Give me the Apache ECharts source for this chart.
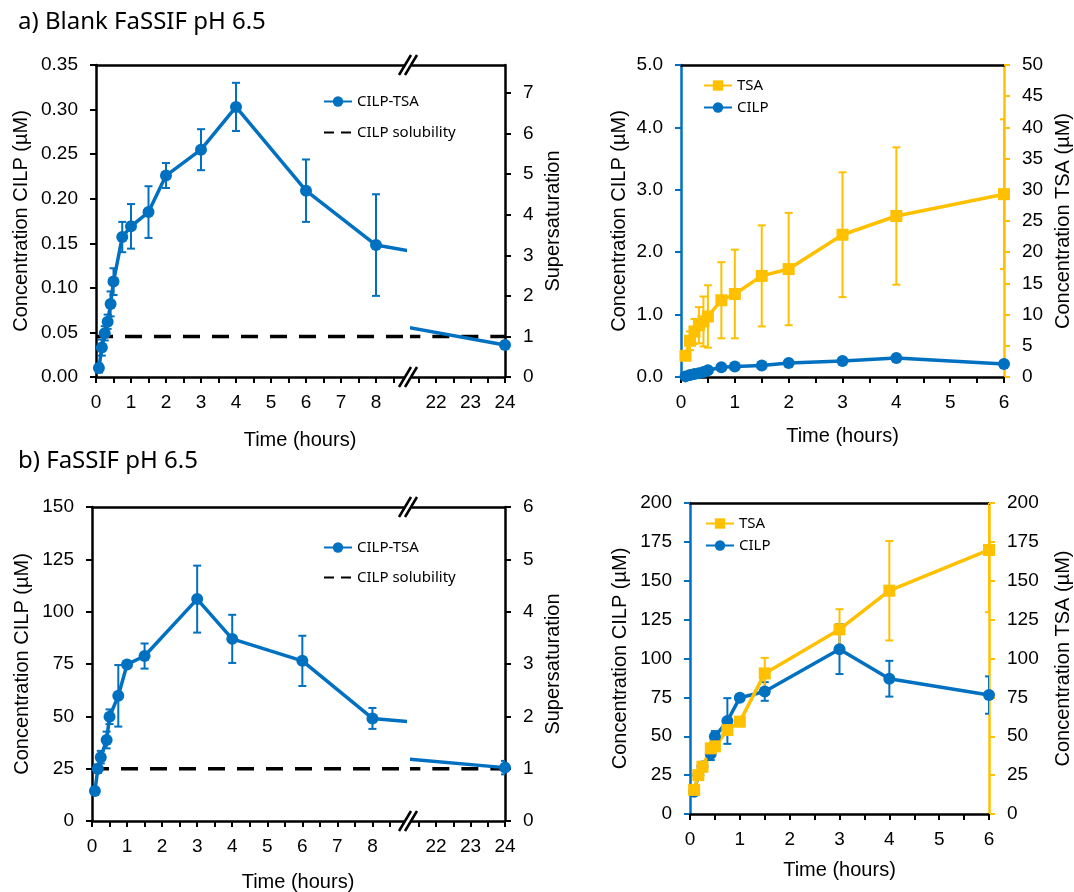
<!doctype html>
<html>
<head>
<meta charset="utf-8">
<title>CILP-TSA in FaSSIF</title>
<script src="https://cdn.jsdelivr.net/npm/echarts@6.0.0/dist/echarts.min.js"></script>
<style>
  html, body { margin: 0; padding: 0; background: #fff; }
  #chart { width: 1074px; height: 892px; }
</style>
</head>
<body>
<div id="chart"></div>
<script>
var BLUE = '#0070C0';
var GOLD = '#FFC000';
var INK = '#000000';
var NUM_FONT = '"Liberation Sans", Arial, sans-serif';
var TXT_FONT = '"Noto Sans", "Open Sans", sans-serif';

// ---- a) Blank FaSSIF pH 6.5 ----
var aTime = [0.083, 0.167, 0.25, 0.333, 0.417, 0.5, 0.75, 1, 1.5, 2, 3, 4, 6, 8, 24];
var aCilp = [0.010, 0.033, 0.049, 0.062, 0.082, 0.107, 0.157, 0.169, 0.185, 0.226, 0.255, 0.303, 0.209, 0.148, 0.036];
var aCilpErr = [0.005, 0.009, 0.008, 0.008, 0.014, 0.015, 0.017, 0.025, 0.029, 0.014, 0.023, 0.027, 0.035, 0.057, 0.004];
var aTsaTime = [0.083, 0.167, 0.25, 0.333, 0.417, 0.5, 0.75, 1, 1.5, 2, 3, 4, 6];
var aTsa = [3.4, 5.8, 7.3, 8.3, 8.9, 9.7, 12.3, 13.3, 16.2, 17.3, 22.8, 25.8, 29.3];
var aTsaErr = [0.4, 1.5, 2.0, 2.9, 4.0, 5.0, 6.1, 7.1, 8.1, 9.0, 10.0, 11.0, 12.0];
var aSolubility = 0.0455;

// ---- b) FaSSIF pH 6.5 ----
var bTime = [0.083, 0.167, 0.25, 0.417, 0.5, 0.75, 1, 1.5, 3, 4, 6, 8, 24];
var bCilp = [14.3, 25, 30.5, 38.7, 49.8, 59.8, 74.8, 78.8, 106, 87, 76.5, 49, 25.5];
var bCilpErr = [1.5, 2, 3, 4, 3.5, 14.7, 1.5, 6, 16, 11.5, 12, 5, 3.2];
var bTsaTime = [0.083, 0.167, 0.25, 0.417, 0.5, 0.75, 1, 1.5, 3, 4, 6];
var bTsa = [15.5, 25, 30.4, 42.2, 43.5, 54, 59.4, 90.4, 118.7, 143.6, 169.8];
var bTsaErr = [2, 2, 2, 3, 3, 3, 3, 10, 13, 32, 40];
var bSolubility = 25;

// ---- ticks and labels ----
var hoursLeft = [0, 1, 2, 3, 4, 5, 6, 7, 8];
var hoursLeftTicks = [0, 0.5, 1, 1.5, 2, 2.5, 3, 3.5, 4, 4.5, 5, 5.5, 6, 6.5, 7, 7.5, 8, 8.5];
var hoursRight = [22, 23, 24];
var hoursRightTicks = [21.5, 22, 22.5, 23, 23.5, 24];
var hoursShort = [0, 1, 2, 3, 4, 5, 6];
var hoursShortTicks = [0, 0.5, 1, 1.5, 2, 2.5, 3, 3.5, 4, 4.5, 5, 5.5, 6];
var supTicksA = [0, 1, 2, 3, 4, 5, 6, 7];
var supTicksB = [0, 1, 2, 3, 4, 5, 6];

function pts(xs, ys) {
  return xs.map(function (x, i) { return [x, ys[i]]; });
}

var nameStyle = { fontFamily: NUM_FONT, fontSize: 20, color: INK };
var TICK_SIZE = 19;

function timeAxis(gi, min, max, labels, ticks, name, gap) {
  return {
    type: 'value', gridIndex: gi, position: 'bottom', min: min, max: max,
    axisLine: { show: true, onZero: false, lineStyle: { color: INK, width: 2.5 } },
    axisTick: { show: true, length: 6, customValues: ticks, lineStyle: { color: INK, width: 2 } },
    axisLabel: { margin: 16, customValues: labels, fontFamily: NUM_FONT, fontSize: TICK_SIZE, color: INK },
    splitLine: { show: false },
    name: name || '', nameLocation: 'middle', nameGap: gap || 40, nameTextStyle: nameStyle
  };
}

function frameLine(gi, min, max) {
  return {
    type: 'value', gridIndex: gi, position: 'top', min: min, max: max,
    axisLine: { show: true, onZero: false, lineStyle: { color: INK, width: 2.5 } },
    axisTick: { show: false }, axisLabel: { show: false }, splitLine: { show: false }
  };
}

function concAxis(gi, pos, max, step, digits, color, name, gap) {
  return {
    type: 'value', gridIndex: gi, position: pos, min: 0, max: max, interval: step,
    axisLine: { show: true, onZero: false, lineStyle: { color: color, width: 2.5 } },
    axisTick: { show: true, length: 6, lineStyle: { color: color, width: 2 } },
    axisLabel: {
      margin: 18, fontFamily: NUM_FONT, fontSize: TICK_SIZE, color: INK,
      formatter: function (v) { return v.toFixed(digits); }
    },
    splitLine: { show: false },
    name: name, nameLocation: 'middle', nameGap: gap, nameRotate: 90, nameTextStyle: nameStyle
  };
}

function hiddenAxis(gi, max) {
  return { type: 'value', gridIndex: gi, min: 0, max: max, show: false };
}

function ratioAxis(gi, max, ticks, gap) {
  return {
    type: 'value', gridIndex: gi, position: 'right', min: 0, max: max,
    axisLine: { show: true, onZero: false, lineStyle: { color: INK, width: 2.5 } },
    axisTick: { show: true, length: 6, customValues: ticks, lineStyle: { color: INK, width: 2 } },
    axisLabel: { margin: 18, customValues: ticks, fontFamily: NUM_FONT, fontSize: TICK_SIZE, color: INK },
    splitLine: { show: false },
    name: 'Supersaturation', nameLocation: 'middle', nameGap: gap, nameRotate: 90, nameTextStyle: nameStyle
  };
}

function line(name, xi, yi, data, color, symbol, size) {
  return {
    name: name, type: 'line', xAxisIndex: xi, yAxisIndex: yi, data: data,
    symbol: symbol, symbolSize: size, showSymbol: symbol !== 'none', clip: true, z: 3,
    lineStyle: { color: color, width: 3.5 }, itemStyle: { color: color, borderWidth: 0 }
  };
}

function solubility(xi, yi, level) {
  var s = line('CILP solubility', xi, yi, [[0, level], [24, level]], INK, 'none', 0);
  s.lineStyle = { color: INK, width: 3.5, type: [17, 12] };
  s.z = 2;
  return s;
}

function errorBars(xi, yi, xs, ys, es, color) {
  return {
    type: 'custom', xAxisIndex: xi, yAxisIndex: yi, clip: true, silent: true, z: 2,
    data: xs.map(function (x, i) { return [x, ys[i], es[i]]; }),
    encode: { x: 0, y: 1 },
    renderItem: function (params, api) {
      var x = api.value(0), y = api.value(1), e = api.value(2);
      var hi = api.coord([x, y + e]);
      var lo = api.coord([x, y - e]);
      var cap = 4;
      var st = { stroke: color, lineWidth: 2 };
      return {
        type: 'group', children: [
          { type: 'line', shape: { x1: hi[0], y1: hi[1], x2: lo[0], y2: lo[1] }, style: st },
          { type: 'line', shape: { x1: hi[0] - cap, y1: hi[1], x2: hi[0] + cap, y2: hi[1] }, style: st },
          { type: 'line', shape: { x1: lo[0] - cap, y1: lo[1], x2: lo[0] + cap, y2: lo[1] }, style: st }
        ]
      };
    }
  };
}

function breakMarks(cx, y) {
  return [-3, 3].map(function (dx) {
    return {
      type: 'line', z: 100,
      shape: { x1: cx + dx - 6, y1: y + 10, x2: cx + dx + 6, y2: y - 10 },
      style: { stroke: INK, lineWidth: 2.5 }
    };
  });
}

function label(text, x, y, font) {
  return { type: 'text', x: x, y: y, style: { text: text, font: font, fill: INK, align: 'center', verticalAlign: 'middle' } };
}

var legendText = { fontFamily: TXT_FONT, fontSize: 15, color: INK };
// dashed legend entry: line only, no marker
var solubilityEntry = { name: 'CILP solubility', lineStyle: { type: [10, 7] }, itemStyle: { opacity: 0 } };

function legend(left, top, gap, names) {
  return {
    orient: 'vertical', left: left, top: top, itemGap: gap, itemWidth: 28, itemHeight: 13,
    textStyle: legendText, selectedMode: false, data: names
  };
}

var aCilpShort = aCilp.slice(0, aTsaTime.length);
var aCilpErrShort = aCilpErr.slice(0, aTsaTime.length);
var bCilpShort = bCilp.slice(0, bTsaTime.length);
var bCilpErrShort = bCilpErr.slice(0, bTsaTime.length);

var option = {
  animation: false,
  backgroundColor: '#ffffff',
  grid: [
    { left: 96, top: 65, width: 308, height: 312 },
    { left: 412, top: 65, width: 93, height: 312 },
    { left: 681, top: 65, width: 323, height: 312 },
    { left: 92, top: 507, width: 312, height: 314 },
    { left: 412, top: 507, width: 93, height: 314 },
    { left: 690, top: 503, width: 300, height: 311 }
  ],
  xAxis: [
    timeAxis(0, 0, 8.8, hoursLeft, hoursLeftTicks),
    frameLine(0, 0, 8.8),
    timeAxis(1, 21.3, 24, hoursRight, hoursRightTicks),
    frameLine(1, 21.3, 24),
    timeAxis(2, 0, 6, hoursShort, hoursShortTicks, 'Time (hours)', 49),
    frameLine(2, 0, 6),
    timeAxis(3, 0, 8.9, hoursLeft, hoursLeftTicks),
    frameLine(3, 0, 8.9),
    timeAxis(4, 21.3, 24, hoursRight, hoursRightTicks),
    frameLine(4, 21.3, 24),
    timeAxis(5, 0, 6, hoursShort, hoursShortTicks, 'Time (hours)', 46),
    frameLine(5, 0, 6)
  ],
  yAxis: [
    concAxis(0, 'left', 0.35, 0.05, 2, INK, 'Concentration CILP (µM)', 65),
    hiddenAxis(1, 0.35),
    ratioAxis(1, 0.35 / aSolubility, supTicksA, 38),
    concAxis(2, 'left', 5, 1, 1, BLUE, 'Concentration CILP (µM)', 52),
    concAxis(2, 'right', 50, 5, 0, GOLD, 'Concentration TSA (µM)', 49),
    concAxis(3, 'left', 150, 25, 0, INK, 'Concentration CILP (µM)', 60),
    hiddenAxis(4, 150),
    ratioAxis(4, 150 / bSolubility, supTicksB, 38),
    concAxis(5, 'left', 200, 25, 0, BLUE, 'Concentration CILP (µM)', 60),
    concAxis(5, 'right', 200, 25, 0, GOLD, 'Concentration TSA (µM)', 64)
  ],
  legend: [
    legend(318, 89, 16, [{ name: 'CILP-TSA' }, solubilityEntry]),
    legend(698, 73, 7, ['TSA', 'CILP']),
    legend(318, 535, 15, [{ name: 'CILP-TSA' }, solubilityEntry]),
    legend(700, 511, 7, ['TSA', 'CILP'])
  ],
  series: [
    // a) left, split time axis
    solubility(0, 0, aSolubility),
    errorBars(0, 0, aTime, aCilp, aCilpErr, BLUE),
    line('CILP-TSA', 0, 0, pts(aTime, aCilp), BLUE, 'circle', 12),
    solubility(2, 1, aSolubility),
    errorBars(2, 1, aTime, aCilp, aCilpErr, BLUE),
    line('CILP-TSA', 2, 1, pts(aTime, aCilp), BLUE, 'circle', 12),
    // a) right
    errorBars(4, 3, aTsaTime, aCilpShort, aCilpErrShort, BLUE),
    line('CILP', 4, 3, pts(aTsaTime, aCilpShort), BLUE, 'circle', 12),
    errorBars(4, 4, aTsaTime, aTsa, aTsaErr, GOLD),
    line('TSA', 4, 4, pts(aTsaTime, aTsa), GOLD, 'rect', 12),
    // b) left, split time axis
    solubility(6, 5, bSolubility),
    errorBars(6, 5, bTime, bCilp, bCilpErr, BLUE),
    line('CILP-TSA', 6, 5, pts(bTime, bCilp), BLUE, 'circle', 12),
    solubility(8, 6, bSolubility),
    errorBars(8, 6, bTime, bCilp, bCilpErr, BLUE),
    line('CILP-TSA', 8, 6, pts(bTime, bCilp), BLUE, 'circle', 12),
    // b) right
    errorBars(10, 8, bTsaTime, bCilpShort, bCilpErrShort, BLUE),
    line('CILP', 10, 8, pts(bTsaTime, bCilpShort), BLUE, 'circle', 12),
    errorBars(10, 9, bTsaTime, bTsa, bTsaErr, GOLD),
    line('TSA', 10, 9, pts(bTsaTime, bTsa), GOLD, 'rect', 12)
  ],
  graphic: [
    { type: 'text', left: 18, top: 10, style: { text: 'a) Blank FaSSIF pH 6.5', font: '24px ' + TXT_FONT, fill: INK } },
    { type: 'text', left: 18, top: 449, style: { text: 'b) FaSSIF pH 6.5', font: '24px ' + TXT_FONT, fill: INK } },
    label('Time (hours)', 300, 440, '20px ' + NUM_FONT),
    label('Time (hours)', 298, 882, '20px ' + NUM_FONT)
  ].concat(breakMarks(408, 65), breakMarks(408, 377), breakMarks(408, 507), breakMarks(408, 821))
};

var chart = echarts.init(document.getElementById('chart'), null, { renderer: 'canvas' });
chart.setOption(option);
</script>
</body>
</html>
